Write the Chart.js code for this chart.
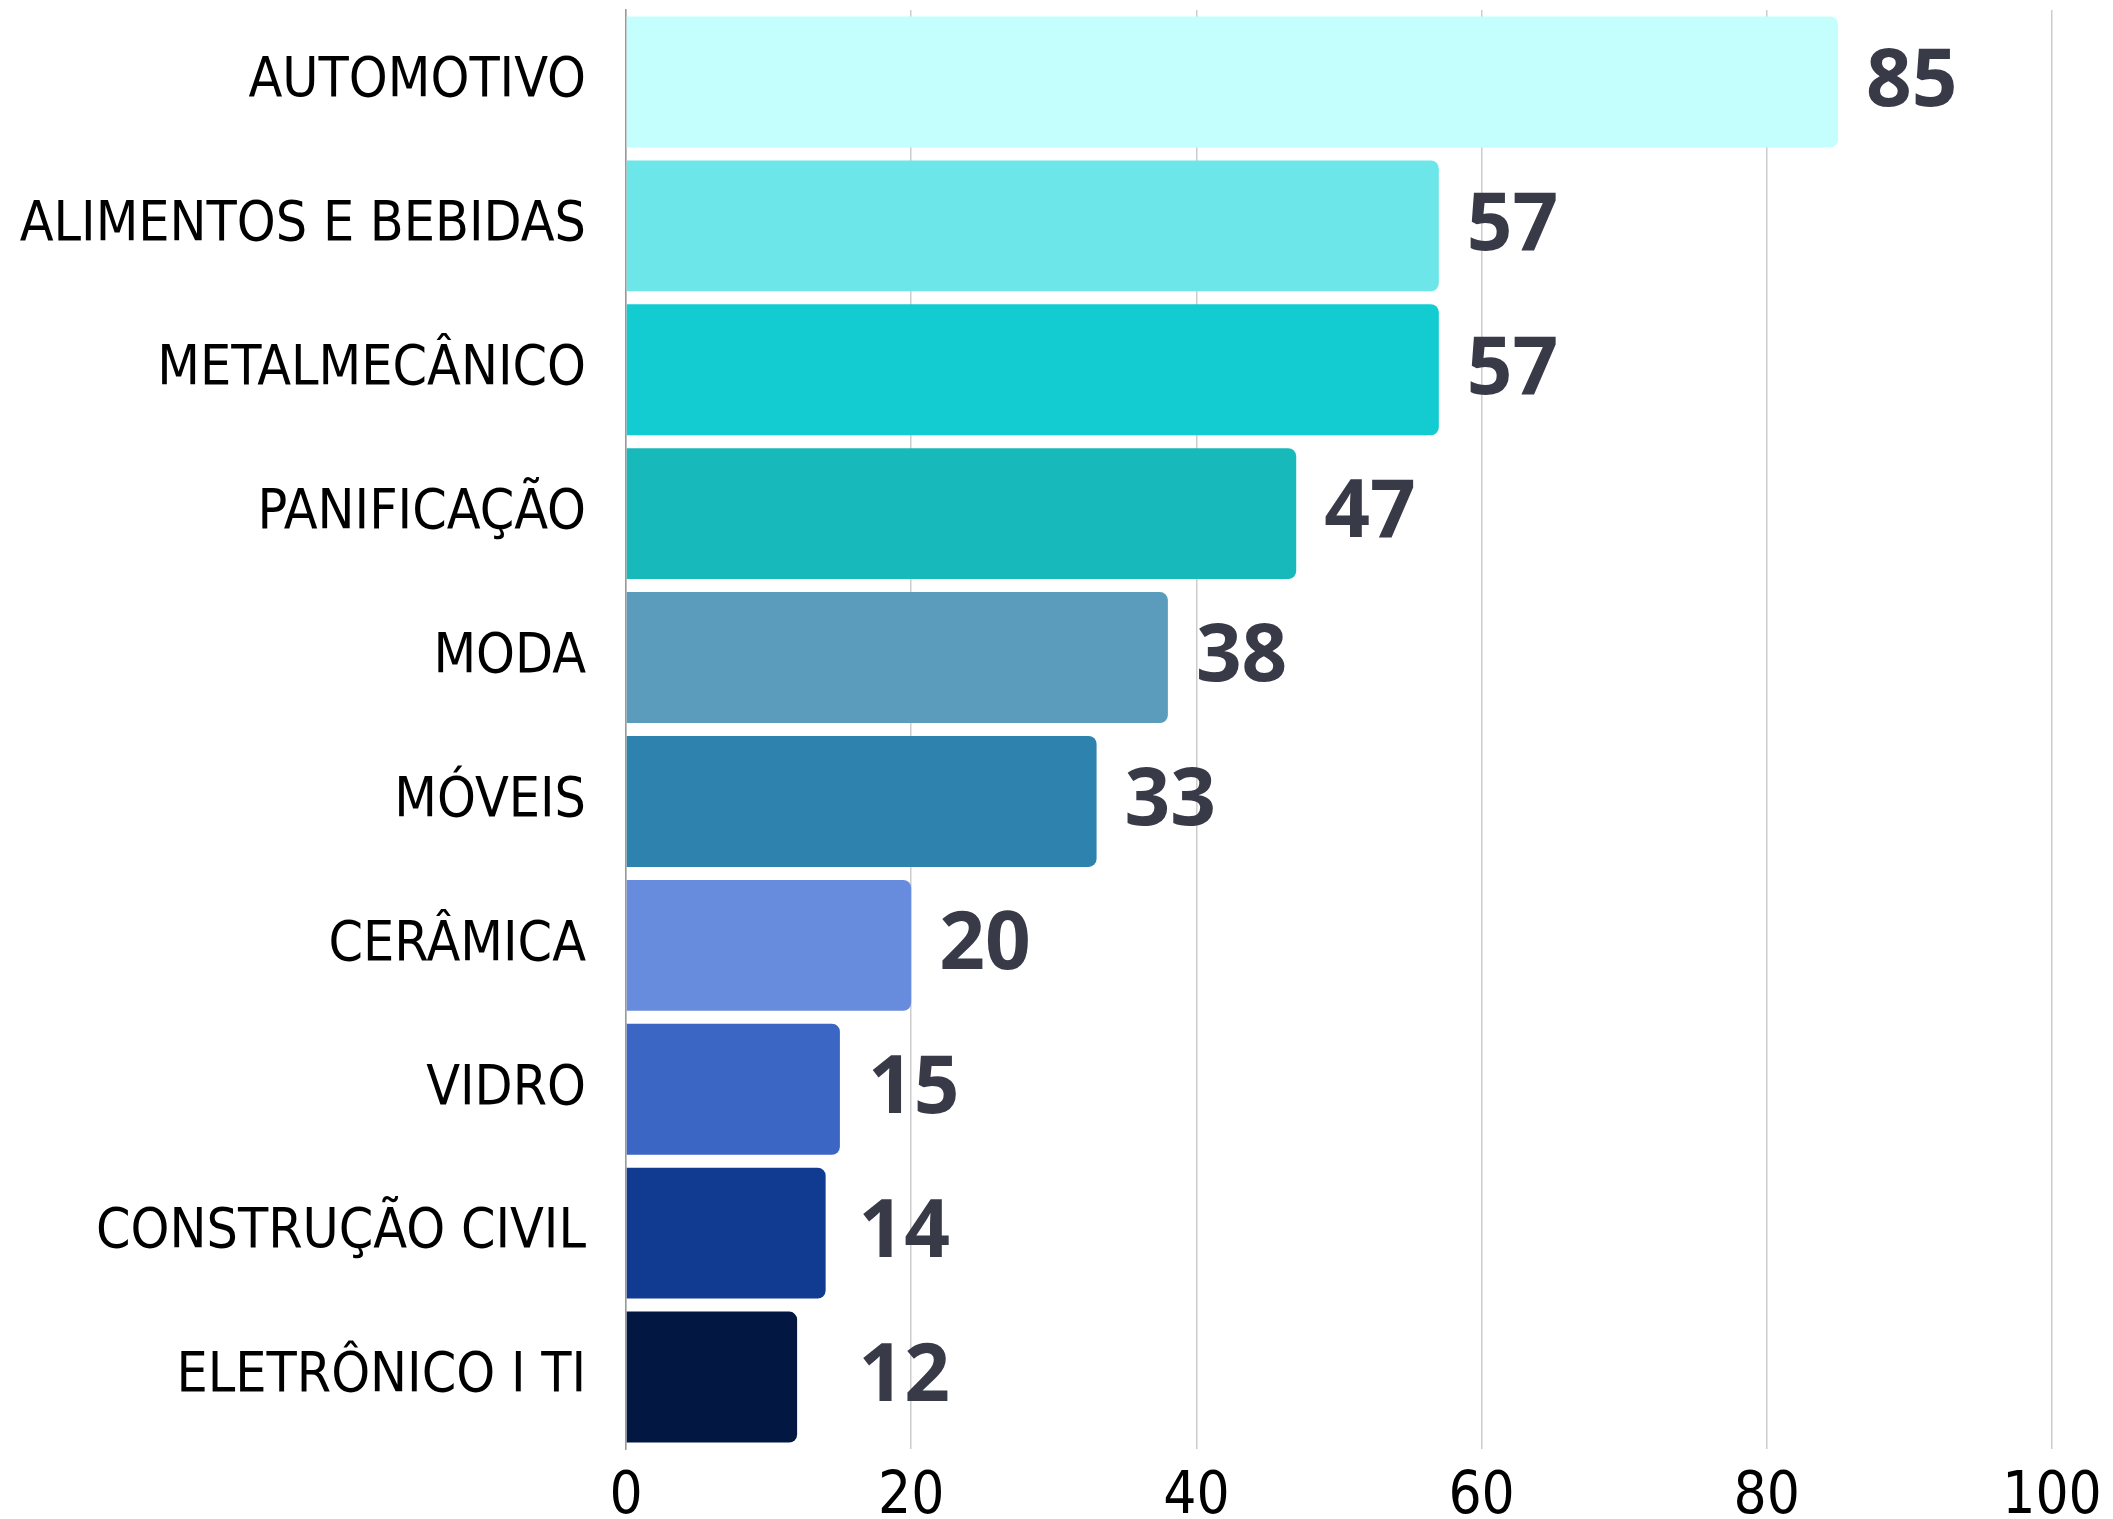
<!DOCTYPE html>
<html>
<head>
<meta charset="utf-8">
<script src="https://cdn.jsdelivr.net/npm/chart.js@4/dist/chart.umd.min.js"></script>
<style>
html,body{margin:0;padding:0;background:#fff;}
#wrap{width:2113px;height:1519px;position:relative;}
</style>
</head>
<body>
<div id="wrap"><canvas id="c" width="2113" height="1519"></canvas></div>
<script>
const categories = ["AUTOMOTIVO","ALIMENTOS E BEBIDAS","METALMECÂNICO","PANIFICAÇÃO","MODA","MÓVEIS","CERÂMICA","VIDRO","CONSTRUÇÃO CIVIL","ELETRÔNICO I TI"];
const values = [85,57,57,47,38,33,20,15,14,12];
const barColors = ["#C4FFFE","#6CE6E8","#12CCD2","#18B9BB","#5B9CBC","#2D83AE","#688CDD","#3B66C4","#113A91","#031743"];
const xTicks = [0,20,40,60,80,100];

const condFont = '"DejaVu Sans Condensed", "Liberation Sans Narrow", "Roboto Condensed", "DejaVu Sans", sans-serif';

const valueLabels = {
  id: 'valueLabels',
  afterDatasetsDraw(chart) {
    const ctx = chart.ctx;
    const meta = chart.getDatasetMeta(0);
    const xs = chart.scales.x;
    const minX = xs.getPixelForValue(16.3);
    ctx.save();
    ctx.font = 'bold 80px "Open Sans", "Noto Sans", sans-serif';
    ctx.fillStyle = '#383a47';
    ctx.textAlign = 'left';
    ctx.textBaseline = 'middle';
    meta.data.forEach((bar, i) => {
      const x = Math.max(bar.x + 28, minX);
      ctx.fillText(String(values[i]), x, bar.y + 1);
    });
    ctx.restore();
  }
};

new Chart(document.getElementById('c'), {
  type: 'bar',
  data: {
    labels: categories,
    datasets: [{
      data: values,
      backgroundColor: barColors,
      borderRadius: 8,
      borderSkipped: 'start',
      barPercentage: 0.91,
      categoryPercentage: 1.0
    }]
  },
  options: {
    indexAxis: 'y',
    responsive: false,
    animation: false,
    devicePixelRatio: 1,
    layout: { padding: { top: 10, right: 61, bottom: 0, left: 0 } },
    plugins: { legend: { display: false }, tooltip: { enabled: false } },
    scales: {
      x: {
        min: 0, max: 100,
        afterBuildTicks(scale) { scale.ticks = xTicks.map(v => ({ value: v })); },
        afterFit(scale) { scale.height = 70; scale.paddingLeft = 0; scale.paddingRight = 0; },
        grid: { color: '#cccccc', lineWidth: 1.5, drawTicks: false },
        border: { display: false },
        ticks: {
          color: '#000',
          padding: 14,
          font: { family: condFont, size: 58 }
        }
      },
      y: {
        afterFit(scale) { scale.width = 626; scale.paddingTop = 0; scale.paddingBottom = 0; },
        grid: { display: false },
        border: { display: true, color: '#999999', width: 1.5 },
        ticks: {
          color: '#000',
          padding: 32,
          font: { family: condFont, size: 55 }
        }
      }
    }
  },
  plugins: [valueLabels]
});
</script>
</body>
</html>
